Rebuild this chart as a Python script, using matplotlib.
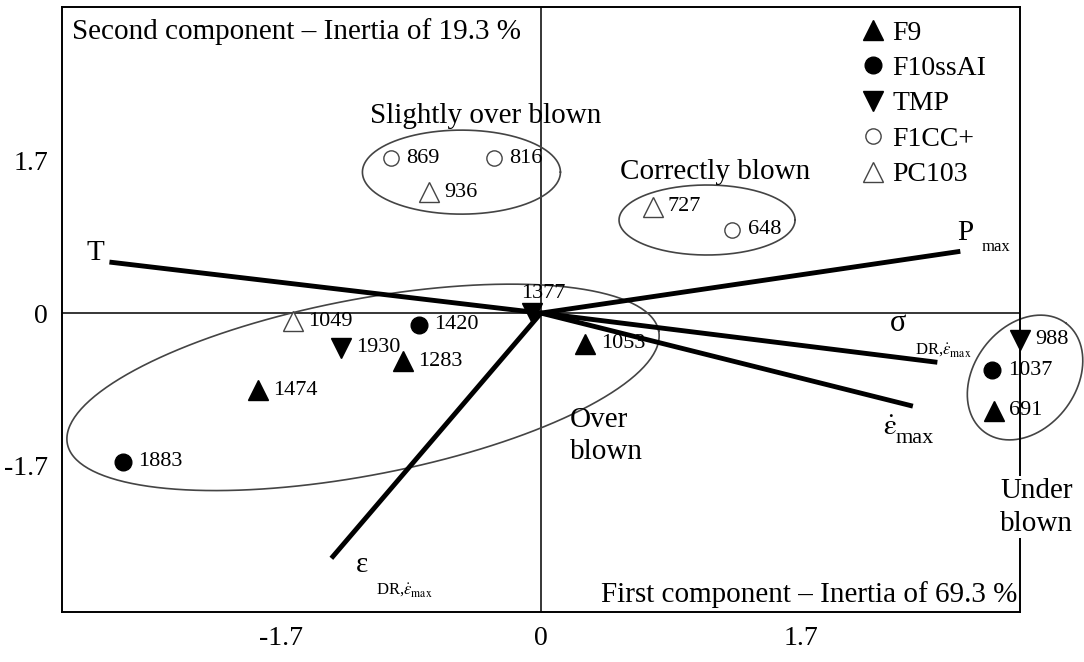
import numpy as np
import matplotlib
matplotlib.use('Agg')
import matplotlib.pyplot as plt
from matplotlib.lines import Line2D

plt.rcParams['font.family'] = ['Liberation Serif', 'DejaVu Serif']
plt.rcParams['mathtext.fontset'] = 'stix'

# individuals: scores on the first two components
labels = ['869', '816', '936', '727', '648', '1049', '1420', '1930', '1283',
          '1474', '1883', '1377', '1053', '988', '1037', '691']
grades = ['F1CC+', 'F1CC+', 'PC103', 'PC103', 'F1CC+', 'PC103', 'F10ssAI', 'TMP', 'F9',
          'F9', 'F10ssAI', 'TMP', 'F9', 'TMP', 'F10ssAI', 'F9']
pc1 = [-0.98, -0.31, -0.73, 0.73, 1.25, -1.62, -0.80, -1.31, -0.90,
       -1.85, -2.73, -0.06, 0.29, 3.13, 2.95, 2.96]
pc2 = [1.73, 1.73, 1.35, 1.19, 0.93, -0.09, -0.13, -0.39, -0.54,
       -0.86, -1.66, 0.0, -0.34, -0.30, -0.64, -1.09]

# variables (loadings drawn as thick lines from the origin)
var_x = [-2.82, 2.74, 2.59, 2.43, -1.37]
var_y = [0.57, 0.69, -0.55, -1.04, -2.74]

grade_order = ['F9', 'F10ssAI', 'TMP', 'F1CC+', 'PC103']
grade_style = {
    'F9': dict(marker='^', markersize=15, markerfacecolor='black', markeredgecolor='black'),
    'F10ssAI': dict(marker='o', markersize=12, markerfacecolor='black', markeredgecolor='black'),
    'TMP': dict(marker='v', markersize=15, markerfacecolor='black', markeredgecolor='black'),
    'F1CC+': dict(marker='o', markersize=11, markerfacecolor='white', markeredgecolor='#444444'),
    'PC103': dict(marker='^', markersize=15, markerfacecolor='white', markeredgecolor='#444444'),
}

ticks = [-1.7, 0, 1.7]
tick_labels = ['-1.7', '0', '1.7']

W, H = 1084, 662
fig = plt.figure(figsize=(W / 100, H / 100), dpi=100)
ax = fig.add_axes([62 / W, 50 / H, 958 / W, 605 / H])
xmin, xmax, ymin, ymax = -3.13, 3.13, -3.34, 3.42
ax.set_xlim(xmin, xmax)
ax.set_ylim(ymin, ymax)

# pixels per data unit, to draw the group ellipses as seen on screen
sx = 958 / (xmax - xmin)
sy = 605 / (ymax - ymin)

ax.axhline(0, color='black', lw=1.1, zorder=1)
ax.axvline(0, color='black', lw=1.1, zorder=1)

for vx, vy in zip(var_x, var_y):
    ax.plot([0, vx], [0, vy], color='black', lw=3.5, solid_capstyle='butt', zorder=3)

for x, y, g, lab in zip(pc1, pc2, grades, labels):
    ax.plot(x, y, linestyle='none', zorder=4, clip_on=False, **grade_style[g])
    if lab == '1377':
        ax.annotate(lab, (x, y), xytext=(8, 14), textcoords='offset points',
                    ha='center', va='center', fontsize=16, zorder=5)
    else:
        ax.annotate(lab, (x, y), xytext=(11, 0), textcoords='offset points',
                    ha='left', va='center', fontsize=16, zorder=5,
                    annotation_clip=False)

# group ellipses: centre (data), semi-axes (px), angle (deg on screen)
ellipses = [
    (-0.52, 1.575, 99, 42, 0),
    (1.085, 1.04, 88, 35, 0),
    (-1.163, -0.83, 301, 88, 10.8),
    (3.163, -0.72, 68, 51, 53),
]
t = np.linspace(0, 2 * np.pi, 300)
for cx, cy, a, b, ang in ellipses:
    th = np.deg2rad(ang)
    px = a * np.cos(t) * np.cos(th) - b * np.sin(t) * np.sin(th)
    py = a * np.cos(t) * np.sin(th) + b * np.sin(t) * np.cos(th)
    ax.plot(cx + px / sx, cy + py / sy, color='#444444', lw=1.2, zorder=2, clip_on=False)

# group names
ax.text(-0.36, 2.20, 'Slightly over blown', ha='center', va='center', fontsize=21)
ax.text(1.14, 1.58, 'Correctly blown', ha='center', va='center', fontsize=21)
ax.text(0.19, -1.37, 'Over\nblown', ha='left', va='center', fontsize=21, linespacing=1.3)
ax.text(3.24, -2.17, 'Under\nblown', ha='center', va='center', fontsize=21, linespacing=1.35,
        clip_on=False, bbox=dict(facecolor='white', edgecolor='none', pad=1))

# axis captions
ax.text(0.0105, 0.947, 'Second component \u2013 Inertia of 19.3 %', transform=ax.transAxes,
        ha='left', va='baseline', fontsize=21)
ax.text(0.997, 0.0165, 'First component \u2013 Inertia of 69.3 %', transform=ax.transAxes,
        ha='right', va='baseline', fontsize=21,
        bbox=dict(facecolor='white', edgecolor='none', pad=1))

# variable names
ax.text(-2.91, 0.67, 'T', ha='center', va='center', fontsize=21)
ax.text(2.77, 0.89, 'P', ha='center', va='center', fontsize=21)
ax.text(2.97, 0.74, 'max', ha='center', va='center', fontsize=12)
ax.text(2.33, -0.12, '\u03c3', ha='center', va='center', fontsize=22)
ax.text(2.63, -0.42, r'DR,$\dot{\varepsilon}_{\mathrm{max}}$', ha='center', va='center', fontsize=12)
ax.text(2.28, -1.285, r'$\dot{\mathrm{\varepsilon}}$', ha='center', va='center', fontsize=21)
ax.text(2.44, -1.40, 'max', ha='center', va='center', fontsize=16)
ax.text(-1.17, -2.82, '\u03b5', ha='center', va='center', fontsize=21)
ax.text(-0.89, -3.10, r'DR,$\dot{\varepsilon}_{\mathrm{max}}$', ha='center', va='center', fontsize=12)

ax.set_xticks(ticks)
ax.set_xticklabels(tick_labels, fontsize=20)
ax.set_yticks(ticks)
ax.set_yticklabels(tick_labels, fontsize=20)
ax.tick_params(length=0, pad=10)
for sp in ax.spines.values():
    sp.set_linewidth(1.4)

handles = [Line2D([], [], linestyle='none', **grade_style[g]) for g in grade_order]
fig.legend(handles, grade_order, loc='upper left', bbox_to_anchor=(845 / W, 1 - 2 / H),
           frameon=False, fontsize=20, handlelength=0.7, handletextpad=0.35,
           labelspacing=0.36, borderpad=0.15)

fig.savefig('out.png', dpi=100)
